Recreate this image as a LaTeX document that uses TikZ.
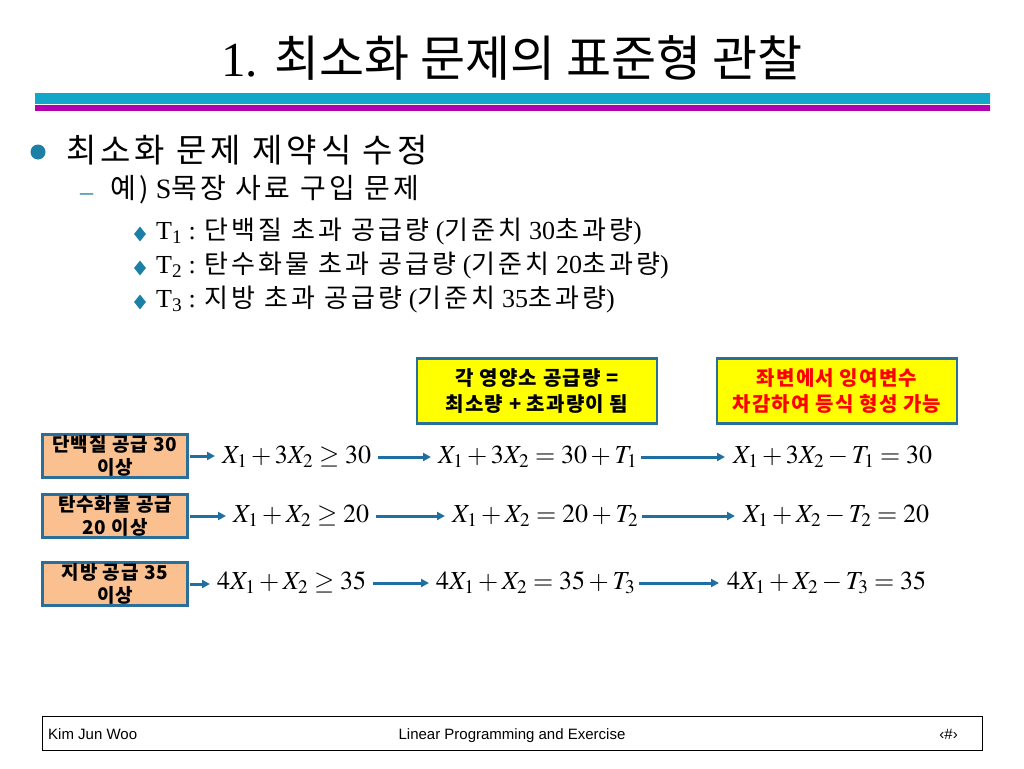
\documentclass[tikz,border=0pt]{standalone}
\usepackage{mathptmx}
\usepackage{fontspec}
\setmainfont{Liberation Serif}
\setsansfont{Liberation Sans}
\newfontfamily\kr{Noto Sans CJK KR}
\newfontfamily\krwide{Noto Sans CJK KR}[LetterSpace=12]
\usetikzlibrary{shapes.geometric, arrows.meta, positioning}
\usepackage{xcolor}
\definecolor{slideTeal}{HTML}{1C7FA6}
\definecolor{slideArrow}{HTML}{1F6FA3}
\definecolor{boxBorder}{HTML}{2A6E9A}
\definecolor{boxOrange}{HTML}{FAC08F}
\definecolor{noteYellow}{HTML}{FFFF00}
\definecolor{noteRed}{HTML}{FF0000}
\definecolor{barCyan}{HTML}{12A6C8}
\definecolor{barMagenta}{HTML}{B000B0}
\tikzset{
    notebox/.style={rectangle, draw=boxBorder, fill=noteYellow, line width=2.5pt, minimum width=240pt, minimum height=65pt, align=center, font=\kr\bfseries\addfontfeature{LetterSpace=6}\fontsize{20}{26}\selectfont},
    sourcebox/.style={rectangle, draw=boxBorder, fill=boxOrange, line width=2.5pt, minimum width=145pt, minimum height=43pt, inner sep=0pt, align=center, font=\kr\bfseries\addfontfeature{LetterSpace=5}\fontsize{19}{23}\selectfont},
    eqn/.style={anchor=west, inner sep=0pt, font=\fontsize{26}{30}\selectfont},
    flow/.style={-{Triangle[length=8pt, width=8pt]}, line width=3pt, draw=slideArrow},
    level3/.style={anchor=west, inner sep=0pt, font=\fontsize{26}{30}\selectfont},
    pin/.style={diamond, fill=slideTeal, inner sep=0pt, minimum width=12pt, minimum height=15pt},
    footnote/.style={anchor=base, inner sep=0pt, font=\sffamily\fontsize{15}{18}\selectfont},
}

\begin{document}
\begin{tikzpicture}[x=1pt, y=-1pt]
    \useasboundingbox[fill=white] (0,0) rectangle (1024,768);

    % title and bars
    \node (title) at (512,58) {\fontsize{49}{54}\selectfont 1. {\kr 최소화 문제의 표준형 관찰}};
    \shade[top color=barCyan, middle color=cyan!45, bottom color=barCyan] (35,93) rectangle (990,103);
    \shade[top color=barMagenta, middle color=magenta, bottom color=barMagenta] (35,105) rectangle (990,110);

    % bullet text
    \fill[slideTeal] (38,152) circle (7.5);
    \node[anchor=west, inner sep=0pt] (lvlone) at (66,150) {\krwide\fontsize{33}{38}\selectfont 최소화 문제 제약식 수정};
    \node[anchor=west, inner sep=0pt, text=slideTeal] (dash) at (80,197) {\fontsize{26}{30}\selectfont --};
    \node[anchor=west, inner sep=0pt] (lvltwo) at (110,190) {\fontsize{28}{32}\selectfont {\krwide 예)} S{\krwide 목장 사료 구입 문제}};
    \node[pin] (pinA) at (140,234) {};
    \node[pin] (pinB) at (140,268) {};
    \node[pin] (pinC) at (140,302) {};
    \node[level3] (tA) at (156,232) {T\textsubscript{1} : {\krwide 단백질 초과 공급량} ({\krwide 기준치} 30{\krwide 초과량})};
    \node[level3] (tB) at (156,266) {T\textsubscript{2} : {\krwide 탄수화물 초과 공급량} ({\krwide 기준치} 20{\krwide 초과량})};
    \node[level3] (tC) at (156,300) {T\textsubscript{3} : {\krwide 지방 초과 공급량} ({\krwide 기준치} 35{\krwide 초과량})};

    % notes
    \node[notebox] (noteL) at (537,391) {각 영양소 공급량 =\\최소량 + 초과량이 됨};
    \node[notebox, text=noteRed] (noteR) at (837,391) {좌변에서 잉여변수\\차감하여 등식 형성 가능};

    % constraint rows
    \node[sourcebox] (boxA) at (115,456) {단백질 공급 30\\이상};
    \node[sourcebox] (boxB) at (115,516) {탄수화물 공급\\20 이상};
    \node[sourcebox] (boxC) at (115,584) {지방 공급 35\\이상};

    \node[eqn] (eqA1) at (222,457) {$X_1 + 3X_2 \geq 30$};
    \node[eqn] (eqA2) at (438,457) {$X_1 + 3X_2 = 30 + T_1$};
    \node[eqn] (eqA3) at (733,457) {$X_1 + 3X_2 - T_1 = 30$};
    \node[eqn] (eqB1) at (233,516) {$X_1 + X_2 \geq 20$};
    \node[eqn] (eqB2) at (452,516) {$X_1 + X_2 = 20 + T_2$};
    \node[eqn] (eqB3) at (743,516) {$X_1 + X_2 - T_2 = 20$};
    \node[eqn] (eqC1) at (217,583) {$4X_1 + X_2 \geq 35$};
    \node[eqn] (eqC2) at (436,583) {$4X_1 + X_2 = 35 + T_3$};
    \node[eqn] (eqC3) at (727,583) {$4X_1 + X_2 - T_3 = 35$};

    \foreach \r in {A,B,C} {
        \draw[flow, shorten <=1pt, shorten >=7pt] (box\r.east) -- (eq\r1.west |- box\r.east);
        \draw[flow, shorten <=7pt, shorten >=7pt] (eq\r1.east) -- (eq\r2.west);
        \draw[flow, shorten <=4pt, shorten >=8pt] (eq\r2.east) -- (eq\r3.west);
    }

    % footer
    \node[draw=black, thin, minimum width=940pt, minimum height=34pt, inner sep=0pt] (footer) at (512,733) {};
    \node[footnote, anchor=base west] (author) at (48,739) {Kim Jun Woo};
    \node[footnote] (course) at (512,739) {Linear Programming and Exercise};
    \node[footnote, anchor=base east] (pageno) at (958,739) {‹\#›};
\end{tikzpicture}
\end{document}
